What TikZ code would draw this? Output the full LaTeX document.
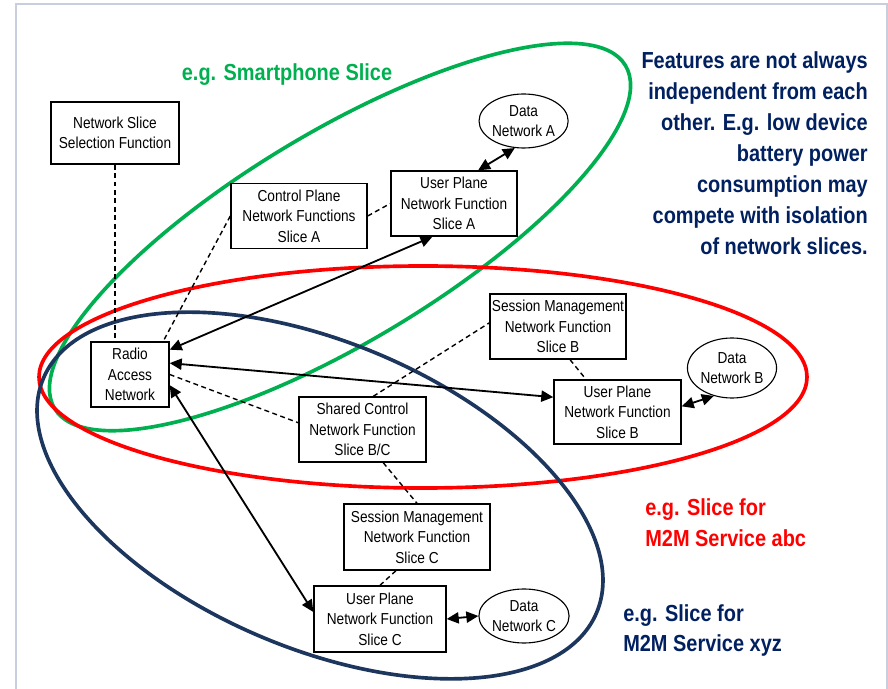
\documentclass[tikz,border=0pt]{standalone}
\usepackage{fontspec}
\setmainfont{Liberation Sans}[FakeStretch=0.86]
\usetikzlibrary{shapes.geometric,arrows.meta}

\definecolor{slicegreen}{RGB}{0,176,80}
\definecolor{slicered}{RGB}{255,0,0}
\definecolor{slicenavy}{RGB}{28,54,94}
\definecolor{notenavy}{RGB}{0,32,96}
\definecolor{framegray}{RGB}{200,206,222}

\tikzset{
  nf/.style={draw, fill=white, line width=1pt, align=center, inner sep=0pt,
    font=\fontsize{11.3}{14.5}\selectfont},
  dn/.style={nf, ellipse, line width=0.8pt},
  ctrl/.style={dash pattern=on 3.5pt off 2.5pt, line width=1pt},
  user/.style={{Triangle[length=3mm,width=2.8mm]}-{Triangle[length=3mm,width=2.8mm]}, line width=1.3pt},
  ring/.style={line width=2.6pt},
  slicelabel/.style={font=\fontsize{16.5}{22}\selectfont\bfseries, inner sep=0pt}
}

\begin{document}
\begin{tikzpicture}
      \useasboundingbox (0,0) rectangle (22.2,17.2);
      \fill[white] (0,0) rectangle (22.2,17.2);

      % Draw the frame
      \begin{scope}
        \clip (0,0) rectangle (22.2,17.2);
        \draw[framegray, line width=1.5pt] (0.4,-1) rectangle (22.175,17.1);
      \end{scope}

      % Draw the slice rings
      \draw[ring, slicegreen, rotate around={31:(8.5,11.275)}] (8.5,11.275) ellipse [x radius=8.325, y radius=2.625];
      \draw[ring, slicered] (10.575,7.775) ellipse [x radius=9.6, y radius=2.775];
      \draw[ring, slicenavy, rotate around={-23:(8,4.8125)}] (8,4.8125) ellipse [x radius=7.51, y radius=3.825];

      % Network functions
      \node[nf, minimum width=3.2cm, minimum height=1.55cm] (nssf) at (2.875,13.875) {Network Slice\\Selection Function};
      \node[nf, minimum width=1.95cm, minimum height=1.625cm] (ran) at (3.25,7.8375) {Radio\\Access\\Network};
      \node[nf, minimum width=3.4cm, minimum height=1.625cm] (cpa) at (7.475,11.8) {Control Plane\\Network Functions\\Slice A};
      \node[nf, minimum width=3.15cm, minimum height=1.625cm] (upa) at (11.35,12.1125) {User Plane\\Network Function\\Slice A};
      \node[dn, minimum width=2.08cm, minimum height=1.35cm] (dna) at (13.09,14.175) {Data\\Network A};
      \node[nf, minimum width=3.4cm, minimum height=1.625cm] (smfb) at (13.95,9.0375) {Session Management\\Network Function\\Slice B};
      \node[nf, minimum width=3.175cm, minimum height=1.6cm] (upb) at (15.4375,6.9) {User Plane\\Network Function\\Slice B};
      \node[dn, minimum width=2.05cm, minimum height=1.5cm] (dnb) at (18.3,8.0) {Data\\Network B};
      \node[nf, minimum width=3.175cm, minimum height=1.625cm] (scp) at (9.0625,6.4625) {Shared Control\\Network Function\\Slice B/C};
      \node[nf, minimum width=3.65cm, minimum height=1.65cm] (smfc) at (10.425,3.775) {Session Management\\Network Function\\Slice C};
      \node[nf, minimum width=3.3cm, minimum height=1.65cm] (upc) at (9.5,1.725) {User Plane\\Network Function\\Slice C};
      \node[dn, minimum width=2.1cm, minimum height=1.35cm] (dnc) at (13.1,1.8) {Data\\Network C};

      % Control plane links
      \draw[ctrl] (nssf.south) -- (nssf.south |- ran.north);
      \draw[ctrl] (cpa.west) -- (ran.45);
      \draw[ctrl] (cpa.east) -- (upa.west);
      \draw[ctrl] (ran.east) -- (scp.174);
      \draw[ctrl] (scp.72) -- (smfb.177);
      \draw[ctrl] (smfb.-70) -- (upb.134);
      \draw[ctrl] (scp.-58) -- (smfc.north);
      \draw[ctrl] (smfc.-122) -- (upc.north);

      % User plane links
      \draw[user] (ran.32) -- (upa.-123);
      \draw[user] (upa.54) -- (dna.-108);
      \draw[user] (ran.16) -- (upb.167);
      \draw[user] (upb.5) -- (dnb.-123);
      \draw[user] (ran.-15) -- (upc.174);
      \draw[user] (upc.east) -- (dnc.west);

      % Slice labels
      \node[slicelabel, text=slicegreen] (smartlabel) at (7.175,15.325) {e.g. Smartphone Slice};
      \node[slicelabel, text=slicered, align=left, anchor=west] (abclabel) at (16.125,4.1375) {e.g. Slice for\\M2M Service abc};
      \node[slicelabel, text=notenavy, align=left, anchor=west] (xyzlabel) at (15.575,1.4375) {e.g. Slice for\\M2M Service xyz};
      \node[slicelabel, text=notenavy, align=right, anchor=east] (note) at (21.7,13.375)
        {Features are not always\\independent from each\\other. E.g. low device\\battery power\\consumption may\\compete with isolation\\of network slices.};
  \end{tikzpicture}
\end{document}
